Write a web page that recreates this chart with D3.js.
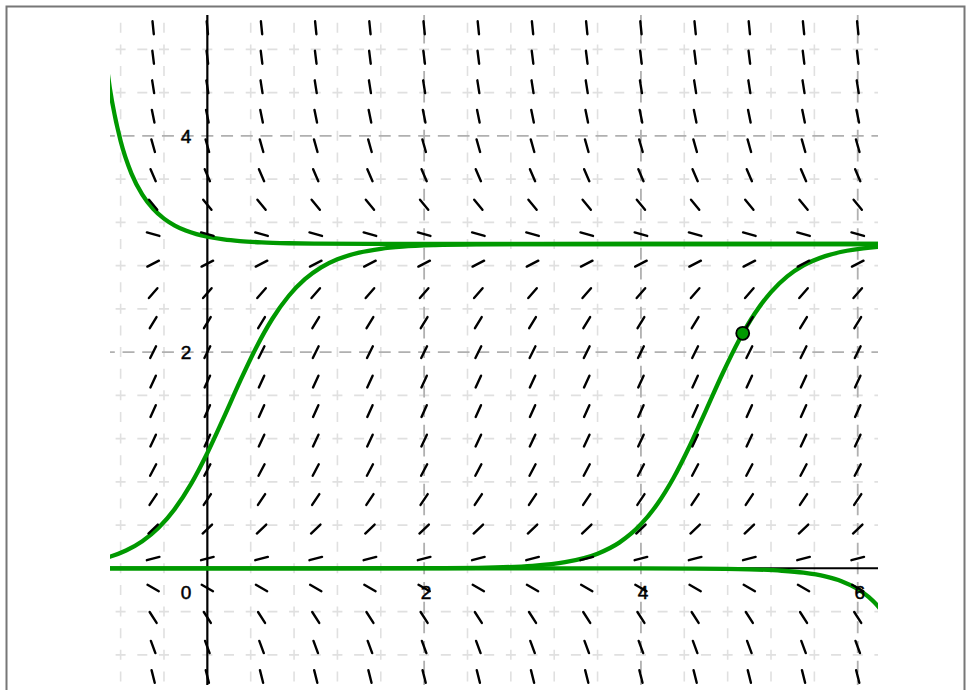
<!DOCTYPE html>
<html>
<head>
<meta charset="utf-8">
<script src="https://cdn.jsdelivr.net/npm/d3@7"></script>
<style>
  html, body { margin: 0; padding: 0; background: #fff; }
  svg { display: block; }
</style>
</head>
<body>
<script>
// ---- data ----
// slope-field columns (x) and rows (y) with the slope shown by each row's marks
const fieldX = [-0.5, 0, 0.5, 1, 1.5, 2, 2.5, 3, 3.5, 4, 4.5, 5, 5.5, 6];
const fieldY = [-1.0, -0.7273, -0.4545, -0.1818, 0.0909, 0.3636, 0.6364, 0.9091, 1.1818, 1.4545,
                1.7273, 2.0, 2.2727, 2.5455, 2.8182, 3.0909, 3.3636, 3.6364, 3.9091, 4.1818,
                4.4545, 4.7273, 5.0];
const fieldSlope = [-4.0, -2.711, -1.570, -0.5785, 0.2645, 0.9587, 1.5041, 1.9008, 2.1488, 2.2479,
                    2.1983, 2.0, 1.6529, 1.1570, 0.5124, -0.2810, -1.2231, -2.3140, -3.5537, -4.9421,
                    -6.4793, -8.1653, -10.0];

// solution curves (x, y)
const curveRising = [[-0.95,0.093],[-0.9,0.1073],[-0.75,0.1649],[-0.6,0.2508],[-0.45,0.3755],[-0.3,0.5498],
  [-0.15,0.7809],[0,1.0669],[0.15,1.3919],[0.3,1.7274],[0.45,2.0412],[0.6,2.3086],[0.75,2.5189],
  [0.9,2.6743],[1.05,2.7839],[1.2,2.8585],[1.4,2.9206],[1.6,2.9559],[1.8,2.9756],[2.1,2.9901],
  [2.5,2.997],[3,2.9993],[4,3.0],[5,3.0],[6.3,3.0]];
const curveThroughPoint = [[-0.95,0.0],[1,0.0],[2,0.0012],[2.5,0.0052],[3,0.0233],[3.3,0.0566],[3.6,0.1354],
  [3.8,0.238],[4,0.4071],[4.15,0.5928],[4.3,0.8358],[4.45,1.1317],[4.6,1.4614],[4.75,1.7952],
  [4.9,2.1008],[5.05,2.3568],[5.2,2.5553],[5.35,2.7003],[5.5,2.8017],[5.7,2.8879],[5.9,2.9374],
  [6.05,2.9598],[6.19,2.9734],[6.3,2.98]];
const curveFalling = [[-0.95,4.822],[-0.9,4.445],[-0.8,3.952],[-0.7,3.651],[-0.6,3.457],[-0.5,3.3256],
  [-0.4,3.2347],[-0.3,3.1704],[-0.2,3.1244],[-0.1,3.0912],[0,3.067],[0.15,3.0424],[0.3,3.0269],
  [0.5,3.0147],[0.75,3.0069],[1,3.0033],[1.5,3.0007],[2,3.0002],[3,3.0],[6.3,3.0]];
const curveBelow = [[-0.95,0.0],[3,-0.0002],[4,-0.0006],[4.5,-0.002],[5,-0.009],[5.3,-0.0221],[5.5,-0.0405],
  [5.7,-0.0746],[5.85,-0.1184],[6,-0.191],[6.1,-0.2646],[6.19,-0.355],[6.25,-0.44]];

const markedPoint = [4.939, 2.174];

const xTickValues = [2, 4, 6];
const xTickLabels = ["2", "4", "6"];
const yTickValues = [2, 4];
const yTickLabels = ["2", "4"];
const originLabel = "0";

// ---- layout ----
const W = 969, H = 690;
const plot = { left: 110, right: 878, top: 15, bottom: 685 };
const xDomain = [-0.898, 6.187];
const yDomain = [-1.079, 5.118];

const svg = d3.select("body").append("svg").attr("width", W).attr("height", H);

// frame
svg.append("rect").attr("x", 6.5).attr("y", 6.5).attr("width", 958).attr("height", 700)
  .attr("fill", "none").attr("stroke", "#777").attr("stroke-width", 2);

const x = d3.scaleLinear().domain(xDomain).range([plot.left, plot.right]);
const y = d3.scaleLinear().domain(yDomain).range([plot.bottom, plot.top]);

svg.append("defs").append("clipPath").attr("id", "clip")
  .append("rect").attr("x", plot.left).attr("y", plot.top)
  .attr("width", plot.right - plot.left).attr("height", plot.bottom - plot.top);

const g = svg.append("g").attr("clip-path", "url(#clip)");

// ---- grid ----
const minorStep = 0.4;
const minorX = d3.range(-1.2, 6.6, minorStep).map(v => +v.toFixed(2));
const minorY = d3.range(-1.2, 5.6, minorStep).map(v => +v.toFixed(2));
const isMajor = v => Math.abs(v / 2 - Math.round(v / 2)) < 1e-6;

const gridG = g.append("g");
const pxX = x(0.4) - x(0), pxY = y(0) - y(0.4);
minorX.filter(v => !isMajor(v)).forEach(v => {
  gridG.append("line").attr("x1", x(v)).attr("x2", x(v))
    .attr("y1", y(-1.2) + 5).attr("y2", plot.top - 20)
    .attr("stroke", "#e0e0e0").attr("stroke-width", 1.6)
    .attr("stroke-dasharray", `10,${pxY / 2 - 10}`);
});
minorY.filter(v => !isMajor(v)).forEach(v => {
  gridG.append("line").attr("y1", y(v)).attr("y2", y(v))
    .attr("x1", x(-1.2) - 5).attr("x2", plot.right + 20)
    .attr("stroke", "#e0e0e0").attr("stroke-width", 1.6)
    .attr("stroke-dasharray", `10,${pxX / 2 - 10}`);
});
const majX = [2, 4, 6], majY = [2, 4];
const majPeriodX = (x(2) - x(0)) / 11, majPeriodY = (y(0) - y(2)) / 11;
majX.forEach(v => {
  gridG.append("line").attr("x1", x(v)).attr("x2", x(v))
    .attr("y1", y(-2) + 6).attr("y2", plot.top - 20)
    .attr("stroke", "#b0b0b0").attr("stroke-width", 1.8)
    .attr("stroke-dasharray", `12,${majPeriodY - 12}`);
});
majY.forEach(v => {
  gridG.append("line").attr("y1", y(v)).attr("y2", y(v))
    .attr("x1", x(-2) - 6).attr("x2", plot.right + 20)
    .attr("stroke", "#b0b0b0").attr("stroke-width", 1.8)
    .attr("stroke-dasharray", `12,${majPeriodX - 12}`);
});

// ---- axes ----
g.append("line").attr("x1", plot.left).attr("x2", plot.right).attr("y1", y(0)).attr("y2", y(0))
  .attr("stroke", "#000").attr("stroke-width", 2);
g.append("line").attr("x1", x(0)).attr("x2", x(0)).attr("y1", plot.top).attr("y2", plot.bottom)
  .attr("stroke", "#000").attr("stroke-width", 2.2);

// ---- solution curves ----
const line = d3.line().x(d => x(d[0])).y(d => y(d[1])).curve(d3.curveMonotoneX);
[curveBelow, curveThroughPoint, curveRising, curveFalling].forEach(c => {
  g.append("path").attr("d", line(c)).attr("fill", "none")
    .attr("stroke", "#009900").attr("stroke-width", 4.3).attr("stroke-linecap", "round");
});

// ---- slope field ----
const markLen = 13;
const sx = x(1) - x(0), sy = y(0) - y(1);
const fieldG = g.append("g");
fieldX.forEach(cx => {
  fieldY.forEach((cy, i) => {
    const m = fieldSlope[i];
    const vx = sx, vy = -m * sy;
    const n = Math.hypot(vx, vy);
    const dx = vx / n * markLen / 2, dy = vy / n * markLen / 2;
    fieldG.append("line")
      .attr("x1", x(cx) - dx).attr("y1", y(cy) - dy)
      .attr("x2", x(cx) + dx).attr("y2", y(cy) + dy)
      .attr("stroke", "#000").attr("stroke-width", 2.4).attr("stroke-linecap", "round");
  });
});

// ---- marked point ----
g.append("circle").attr("cx", x(markedPoint[0])).attr("cy", y(markedPoint[1])).attr("r", 6.5)
  .attr("fill", "#009900").attr("stroke", "#000").attr("stroke-width", 1.8);

// ---- tick labels ----
function addLabel(px, py, anchor, txt) {
  svg.append("text").attr("x", px).attr("y", py).attr("text-anchor", anchor)
    .attr("font-family", "Liberation Sans, Arial, sans-serif")
    .attr("font-size", 19).attr("fill", "#000")
    .attr("stroke", "#000").attr("stroke-width", 0.5)
    .text(txt);
}
xTickValues.forEach((v, i) => addLabel(x(v) + 2, y(0) + 30.5, "middle", xTickLabels[i]));
yTickValues.forEach((v, i) => addLabel(x(0) - 16, y(v) + 7, "end", yTickLabels[i]));
addLabel(x(0) - 16, y(0) + 30.5, "end", originLabel);
</script>
</body>
</html>
